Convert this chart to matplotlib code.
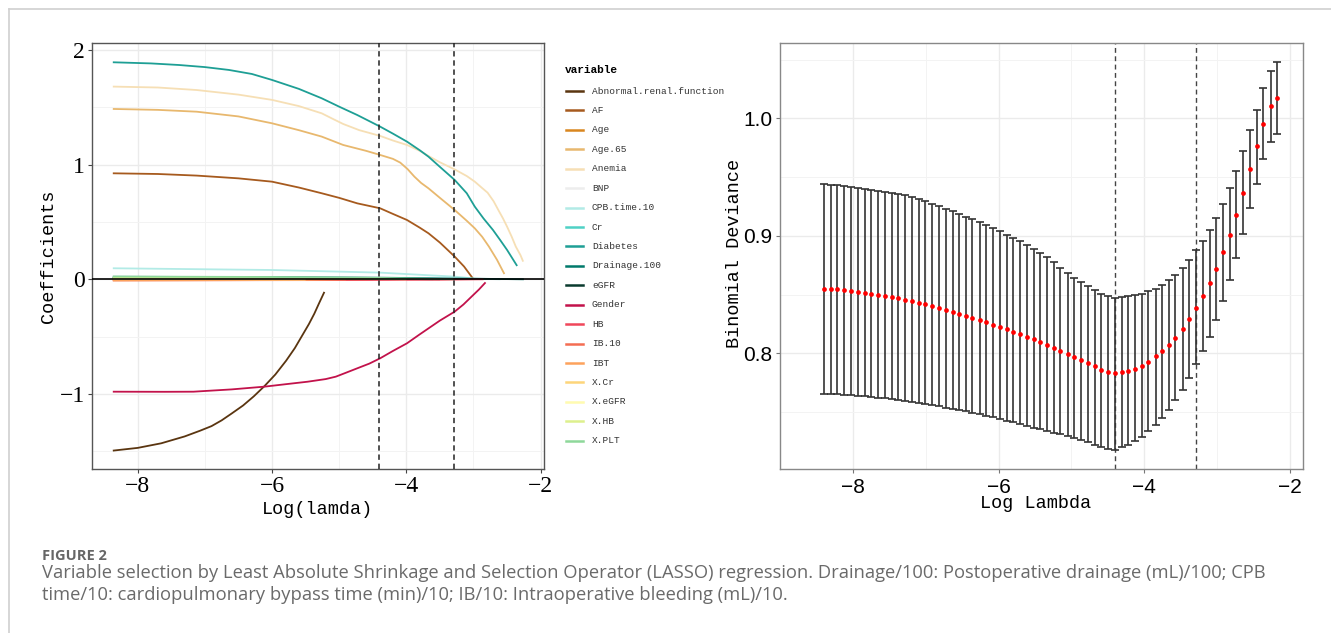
import matplotlib
matplotlib.use("Agg")
import matplotlib.pyplot as plt
from matplotlib.lines import Line2D
import numpy as np

# ---------------- data: left panel (coefficient paths) ----------------
variables = ["Abnormal.renal.function", "AF", "Age", "Age.65", "Anemia", "BNP",
             "CPB.time.10", "Cr", "Diabetes", "Drainage.100", "eGFR", "Gender",
             "HB", "IB.10", "IBT", "X.Cr", "X.eGFR", "X.HB", "X.PLT"]
var_colors = ["#5A3510", "#A65A1E", "#D9861F", "#E8B86E", "#F6DFB5", "#EDEDED",
              "#B2EBE6", "#4FD1C5", "#1E9F95", "#00796B", "#0A3B2E", "#C2124B",
              "#F0475A", "#F46D52", "#FDA25C", "#FDD57A", "#FFFBB0", "#DDF08D",
              "#8ED89A"]

abnormal_x = [-8.37, -8.0, -7.65, -7.3, -7.07, -6.9, -6.75, -6.6, -6.43, -6.27, -6.11,
              -5.95, -5.79, -5.66, -5.53, -5.45, -5.37, -5.30, -5.22]
abnormal_y = [-1.494, -1.47, -1.43, -1.37, -1.32, -1.28, -1.23, -1.17, -1.10, -1.02, -0.93,
              -0.83, -0.71, -0.60, -0.47, -0.39, -0.30, -0.21, -0.11]
af_x = [-8.37, -7.7, -7.12, -6.5, -6.0, -5.6, -5.26, -5.0, -4.73, -4.39, -4.2, -3.99,
        -3.8, -3.67, -3.5, -3.28, -3.14, -3.03, -3.00]
af_y = [0.924, 0.918, 0.904, 0.88, 0.851, 0.80, 0.750, 0.71, 0.662, 0.619, 0.57, 0.517,
        0.45, 0.401, 0.32, 0.198, 0.111, 0.024, 0.0]
age_x = [-8.37, -6.0, -4.5]
age_y = [0.006, 0.004, 0.0]
age65_x = [-8.37, -7.7, -7.12, -6.5, -6.0, -5.6, -5.26, -4.94, -4.6, -4.39, -4.2, -4.09,
           -3.98, -3.88, -3.78, -3.67, -3.5, -3.28, -3.1, -2.98, -2.87, -2.77, -2.65, -2.54]
age65_y = [1.485, 1.477, 1.461, 1.42, 1.360, 1.30, 1.244, 1.171, 1.12, 1.084, 1.05, 1.017,
           0.96, 0.895, 0.84, 0.793, 0.71, 0.604, 0.51, 0.444, 0.37, 0.285, 0.17, 0.046]
anemia_x = [-8.37, -7.7, -7.12, -6.5, -6.0, -5.6, -5.26, -5.1, -4.94, -4.7, -4.39, -4.2,
            -3.99, -3.8, -3.67, -3.5, -3.28, -3.1, -2.98, -2.88, -2.79, -2.7, -2.63, -2.56,
            -2.50, -2.43, -2.37, -2.3, -2.26]
anemia_y = [1.680, 1.672, 1.650, 1.61, 1.564, 1.51, 1.447, 1.40, 1.354, 1.30, 1.25, 1.21,
            1.171, 1.12, 1.075, 1.02, 0.958, 0.90, 0.851, 0.80, 0.755, 0.68, 0.604, 0.53,
            0.459, 0.37, 0.285, 0.21, 0.154]
bnp_x = [-8.37, -5.0]
bnp_y = [0.004, 0.0]
cpb_x = [-8.37, -6.00, -4.39, -3.28, -2.98, -2.60]
cpb_y = [0.096, 0.081, 0.058, 0.023, 0.006, 0.0]
cr_x = [-8.37, -5.5, -3.6]
cr_y = [0.012, 0.008, 0.0]
diabetes_x = [-8.37, -7.8, -7.38, -7.0, -6.64, -6.3, -6.0, -5.6, -5.26, -5.0, -4.73, -4.39,
              -4.2, -3.99, -3.8, -3.67, -3.5, -3.28, -3.1, -2.98, -2.85, -2.71, -2.6, -2.50,
              -2.35]
diabetes_y = [1.892, 1.882, 1.868, 1.85, 1.825, 1.79, 1.738, 1.66, 1.578, 1.505, 1.432, 1.331,
              1.27, 1.200, 1.125, 1.069, 0.98, 0.866, 0.75, 0.633, 0.53, 0.430, 0.34, 0.256,
              0.116]
drainage_x = [-8.37, -6.0, -4.4, -3.3, -2.25]
drainage_y = [0.022, 0.019, 0.014, 0.007, 0.0]
egfr_x = [-8.37, -5.0, -3.5]
egfr_y = [0.012, 0.008, 0.0]
gender_x = [-8.37, -7.6, -7.17, -6.6, -6.11, -5.8, -5.47, -5.2, -5.05, -4.9, -4.73, -4.55,
            -4.39, -4.2, -3.99, -3.8, -3.67, -3.5, -3.28, -3.15, -3.03, -2.92, -2.82]
gender_y = [-0.980, -0.981, -0.980, -0.96, -0.936, -0.915, -0.893, -0.87, -0.849, -0.815,
            -0.776, -0.735, -0.689, -0.625, -0.558, -0.48, -0.428, -0.36, -0.282, -0.22,
            -0.152, -0.09, -0.027]
hb_x = [-8.37, -5.0, -3.5, -2.85]
hb_y = [-0.009, -0.007, -0.004, 0.0]
ib_x = [-8.37, -4.6]
ib_y = [-0.006, 0.0]
ibt_x = [-8.37, -5.6, -4.9]
ibt_y = [-0.011, -0.006, 0.0]
xcr_x = [-8.37, -5.5]
xcr_y = [0.004, 0.0]
xegfr_x = [-8.37, -5.5]
xegfr_y = [0.003, 0.0]
xhb_x = [-8.37, -6.0, -4.0]
xhb_y = [0.016, 0.012, 0.0]
xplt_x = [-8.37, -6.0, -4.4, -3.3]
xplt_y = [0.024, 0.020, 0.012, 0.0]

# ---------------- data: right panel (CV binomial deviance) ----------------
log_lambda = [-8.40, -8.31, -8.22, -8.12, -8.03, -7.94, -7.84, -7.75, -7.66, -7.56,
              -7.47, -7.38, -7.29, -7.19, -7.10, -7.01, -6.91, -6.82, -6.73, -6.63,
              -6.54, -6.45, -6.36, -6.26, -6.17, -6.08, -5.98, -5.89, -5.80, -5.70,
              -5.61, -5.52, -5.43, -5.33, -5.24, -5.15, -5.05, -4.96, -4.87, -4.77,
              -4.68, -4.59, -4.50, -4.40, -4.31, -4.22, -4.12, -4.03, -3.94, -3.84,
              -3.75, -3.66, -3.57, -3.47, -3.38, -3.29, -3.19, -3.10, -3.01, -2.91,
              -2.82, -2.73, -2.64, -2.54, -2.45, -2.36, -2.26, -2.17]
cv_mean = [0.8550, 0.8547, 0.8544, 0.8536, 0.8530, 0.8522, 0.8513, 0.8505, 0.8496, 0.8488,
           0.8479, 0.8468, 0.8457, 0.8445, 0.8431, 0.8417, 0.8403, 0.8388, 0.8371, 0.8354,
           0.8337, 0.8320, 0.8303, 0.8284, 0.8264, 0.8244, 0.8227, 0.8204, 0.8184, 0.8165,
           0.8143, 0.8120, 0.8096, 0.8072, 0.8047, 0.8020, 0.7996, 0.7970, 0.7940, 0.7917,
           0.7888, 0.7860, 0.7843, 0.7829, 0.7837, 0.7849, 0.7868, 0.7894, 0.7928, 0.7973,
           0.8016, 0.8070, 0.8130, 0.8206, 0.8294, 0.8387, 0.8490, 0.8597, 0.8720, 0.8860,
           0.9010, 0.9180, 0.9365, 0.9570, 0.9760, 0.9955, 1.0105, 1.0173]
cv_upper = [0.9441, 0.9435, 0.9430, 0.9424, 0.9418, 0.9410, 0.9401, 0.9393, 0.9384, 0.9376,
            0.9367, 0.9356, 0.9344, 0.9330, 0.9313, 0.9293, 0.9273, 0.9254, 0.9231, 0.9208,
            0.9186, 0.9163, 0.9140, 0.9115, 0.9089, 0.9064, 0.9038, 0.9010, 0.8981, 0.8953,
            0.8922, 0.8890, 0.8856, 0.8820, 0.8775, 0.8730, 0.8685, 0.8642, 0.8605, 0.8574,
            0.8540, 0.8503, 0.8484, 0.8469, 0.8475, 0.8484, 0.8492, 0.8503, 0.8526, 0.8549,
            0.8583, 0.8625, 0.8668, 0.8724, 0.8795, 0.8875, 0.8957, 0.9048, 0.9155, 0.9274,
            0.9410, 0.9555, 0.9722, 0.9898, 1.0071, 1.0258, 1.0405, 1.0476]
cv_lower = [0.7654, 0.7654, 0.7651, 0.7648, 0.7645, 0.7640, 0.7634, 0.7628, 0.7623, 0.7617,
            0.7608, 0.7603, 0.7594, 0.7586, 0.7577, 0.7569, 0.7557, 0.7549, 0.7537, 0.7529,
            0.7517, 0.7506, 0.7495, 0.7483, 0.7469, 0.7455, 0.7438, 0.7427, 0.7413, 0.7396,
            0.7385, 0.7368, 0.7354, 0.7340, 0.7325, 0.7310, 0.7295, 0.7280, 0.7262, 0.7245,
            0.7222, 0.7202, 0.7188, 0.7180, 0.7200, 0.7217, 0.7251, 0.7287, 0.7336, 0.7387,
            0.7449, 0.7520, 0.7599, 0.7690, 0.7789, 0.7905, 0.8016, 0.8143, 0.8285, 0.8444,
            0.8620, 0.8812, 0.9019, 0.9240, 0.9442, 0.9651, 0.9802, 0.9867]

left_xticks = [-8, -6, -4, -2]
left_xticklabels = ["\u22128", "\u22126", "\u22124", "\u22122"]
left_yticks = [-1, 0, 1, 2]
left_yticklabels = ["\u22121", "0", "1", "2"]
right_xticks = [-8, -6, -4, -2]
right_xticklabels = ["\u22128", "\u22126", "\u22124", "\u22122"]
right_yticks = [0.8, 0.9, 1.0]
right_yticklabels = ["0.8", "0.9", "1.0"]

caption_title = "FIGURE 2"
caption_line1 = ("Variable selection by Least Absolute Shrinkage and Selection Operator (LASSO) "
                 "regression. Drainage/100: Postoperative drainage (mL)/100; CPB")
caption_line2 = "time/10: cardiopulmonary bypass time (min)/10; IB/10: Intraoperative bleeding (mL)/10."

# ---------------- lambda.min and lambda.1se from CV data ----------------
mean_arr = np.array(cv_mean)
i_min = int(np.argmin(mean_arr))
thresh = cv_upper[i_min]
ok = np.where(mean_arr <= thresh)[0]
i_1se = int(ok.max())
lam_min = log_lambda[i_min]
lam_1se = log_lambda[i_1se]

# ---------------- figure ----------------
W, H = 1331, 633
fig = plt.figure(figsize=(W / 100, H / 100), dpi=100)
fig.patch.set_facecolor("white")


def fx(px):
    return px / W


def fy(py):
    return 1 - py / H


# page frame lines (top and left)
fig.add_artist(Line2D([fx(9.3), 1.0], [fy(9.3), fy(9.3)], transform=fig.transFigure,
                      color="#d0d0d0", lw=1.2))
fig.add_artist(Line2D([fx(9.3), fx(9.3)], [fy(9.3), 0.0], transform=fig.transFigure,
                      color="#d0d0d0", lw=1.2))

# ---------------- left panel ----------------
ax1 = fig.add_axes([fx(92), fy(469), fx(544) - fx(92), fy(43) - fy(469)])
paths = [
    (abnormal_x, abnormal_y), (af_x, af_y), (age_x, age_y), (age65_x, age65_y),
    (anemia_x, anemia_y), (bnp_x, bnp_y), (cpb_x, cpb_y), (cr_x, cr_y),
    (diabetes_x, diabetes_y), (drainage_x, drainage_y), (egfr_x, egfr_y),
    (gender_x, gender_y), (hb_x, hb_y), (ib_x, ib_y), (ibt_x, ibt_y),
    (xcr_x, xcr_y), (xegfr_x, xegfr_y), (xhb_x, xhb_y), (xplt_x, xplt_y),
]
for (xs, ys), col in zip(paths, var_colors):
    ax1.plot(xs, ys, color=col, lw=1.3, solid_capstyle="butt", solid_joinstyle="round",
             zorder=2)
ax1.axhline(0, color="black", lw=1.2, zorder=3)
for v in (lam_min, lam_1se):
    ax1.axvline(v, color="#222222", lw=1.1, ls=(0, (3.5, 2.5)), zorder=3)

ax1.set_xlim(-8.68, -1.95)
ax1.set_ylim(-1.654, 2.06)
ax1.set_xticks([-7, -5, -3], minor=True)
ax1.set_yticks([-1.5, -0.5, 0.5, 1.5], minor=True)
ax1.set_xticks(left_xticks, labels=left_xticklabels, fontfamily="Liberation Serif", fontsize=17)
ax1.set_yticks(left_yticks, labels=left_yticklabels, fontfamily="Liberation Serif", fontsize=17)
ax1.grid(which="major", color="#EBEBEB", lw=1.0)
ax1.grid(which="minor", color="#F3F3F3", lw=0.7)
ax1.set_axisbelow(True)
ax1.tick_params(which="major", length=3, width=0.8, color="#444444", pad=2, labelcolor="black")
ax1.tick_params(which="minor", length=0)
for s in ax1.spines.values():
    s.set_color("#555555")
    s.set_linewidth(1.0)

fig.text(fx(48), fy(256), "Coefficients", rotation=90, ha="center", va="center",
         family="Liberation Mono", fontsize=13.3, color="black")
fig.text(fx(318), fy(509), "Log(lamda)", ha="center", va="center",
         family="Liberation Mono", fontsize=13.3, color="black")

# legend (manual, ggplot style)
fig.text(fx(565), fy(70), "variable", ha="left", va="center", family="Liberation Mono",
         fontsize=8, fontweight="bold", color="black")
for i, (name, col) in enumerate(zip(variables, var_colors)):
    yy = 91 + 19.43 * i
    fig.add_artist(Line2D([fx(566), fx(583)], [fy(yy), fy(yy)], transform=fig.transFigure,
                          color=col, lw=1.8))
    fig.text(fx(592), fy(yy), name, ha="left", va="center", family="Liberation Mono",
             fontsize=6.8, color="#333333")

# ---------------- right panel ----------------
ax2 = fig.add_axes([fx(780.4), fy(469.3), fx(1303.4) - fx(780.4), fy(43.3) - fy(469.3)])
mean_np = np.array(cv_mean)
yerr = [mean_np - np.array(cv_lower), np.array(cv_upper) - mean_np]
ax2.errorbar(log_lambda, cv_mean, yerr=yerr, fmt="none", ecolor="#333333",
             elinewidth=1.2, capsize=2.6, capthick=1.2, zorder=2)
ax2.plot(log_lambda, cv_mean, ls="none", marker="o", ms=3.4, color="#FF0000",
         markeredgewidth=0, zorder=3)
for v in (lam_min, lam_1se):
    ax2.axvline(v, color="#444444", lw=1.0, ls=(0, (3.5, 2.5)), zorder=1.5)

ax2.set_xlim(-8.75, -1.81)
ax2.set_ylim(0.7013, 1.0638)
ax2.set_xticks([-9, -7, -5, -3], minor=True)
ax2.set_yticks([0.75, 0.85, 0.95, 1.05], minor=True)
ax2.set_xticks(right_xticks, labels=right_xticklabels, fontfamily="Liberation Sans", fontsize=15)
ax2.set_yticks(right_yticks, labels=right_yticklabels, fontfamily="Liberation Sans", fontsize=15)
ax2.grid(which="major", color="#EBEBEB", lw=1.0)
ax2.grid(which="minor", color="#F3F3F3", lw=0.7)
ax2.set_axisbelow(True)
ax2.tick_params(which="major", length=3, width=0.8, color="#777777", pad=3, labelcolor="black")
ax2.tick_params(which="minor", length=0)
for s in ax2.spines.values():
    s.set_color("#888888")
    s.set_linewidth(1.0)

fig.text(fx(735), fy(253), "Binomial Deviance", rotation=90, ha="center", va="center",
         family="Liberation Mono", fontsize=13.3, color="black")
fig.text(fx(1036), fy(503), "Log Lambda", ha="center", va="center",
         family="Liberation Mono", fontsize=13.3, color="black")

# ---------------- caption ----------------
fig.text(fx(41.7), fy(559.5), caption_title, ha="left", va="baseline", family="Open Sans",
         fontsize=10.5, fontweight="bold", color="#666666")
fig.text(fx(41.7), fy(578), caption_line1, ha="left", va="baseline", family="Open Sans",
         fontsize=13.2, color="#6a6a6a")
fig.text(fx(41.7), fy(600), caption_line2, ha="left", va="baseline", family="Open Sans",
         fontsize=13.2, color="#6a6a6a")

fig.savefig("out.png", dpi=100)
